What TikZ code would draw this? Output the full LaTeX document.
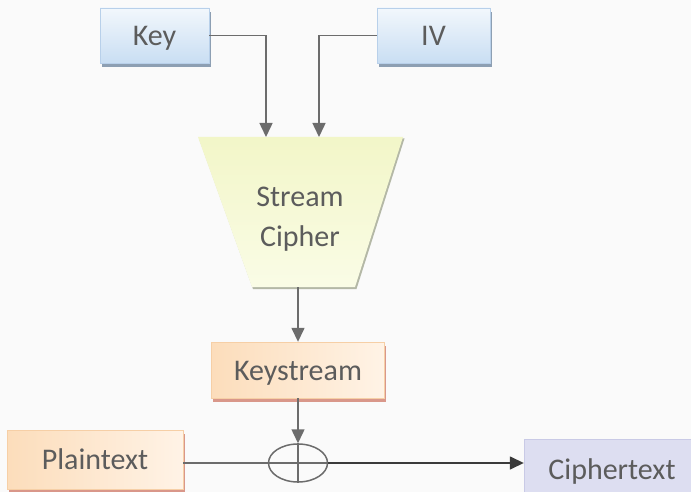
\documentclass[tikz,border=0pt]{standalone}
\usepackage{fontspec}
\setmainfont{Carlito}
\usetikzlibrary{arrows.meta,shapes.geometric,shadows}
\definecolor{bg}{HTML}{FAFAFA}
\definecolor{txt}{HTML}{5C5C5C}
\definecolor{ln}{HTML}{6C6C6C}
\definecolor{lndark}{HTML}{3A3A3A}
\definecolor{blueT}{HTML}{F2F7FC}
\definecolor{blueB}{HTML}{C9DEF3}
\definecolor{blueE}{HTML}{B8D0EA}
\definecolor{blueS}{HTML}{8D9FB3}
\definecolor{orT}{HTML}{FCDDBB}
\definecolor{orB}{HTML}{FFF3E6}
\definecolor{orE}{HTML}{F6CFA6}
\definecolor{orS}{HTML}{D9978A}
\definecolor{yT}{HTML}{F2F6C8}
\definecolor{yB}{HTML}{FAFCE6}
\definecolor{yS}{HTML}{B4B8A6}
\definecolor{lav}{HTML}{DDDEF1}
\definecolor{lavE}{HTML}{C9CAE6}
\begin{document}
\begin{tikzpicture}[x=1pt,y=-1pt,
  font=\fontsize{30}{42}\selectfont,
  box/.style={rectangle, inner sep=0pt, text=txt, line width=0.4pt, text height=22pt, text depth=2pt},
  bluebox/.style={box, top color=blueT, bottom color=blueB, draw=blueE,
    drop shadow={shadow xshift=1.5pt, shadow yshift=-4pt, fill=blueS, opacity=1}},
  orbox/.style={box, left color=orT, right color=orB, draw=orE,
    drop shadow={shadow xshift=1.5pt, shadow yshift=-4pt, fill=orS, opacity=1}},
  arr/.style={draw=ln, line width=1.5pt, -{Triangle[length=14pt,width=13pt]}},
  conn/.style={draw=ln, line width=1.5pt}]
\path[clip] (0,0) rectangle (691,492);
\useasboundingbox (0,0) rectangle (691,492);
\fill[bg] (0,0) rectangle (691,492);

% nodes
\node[bluebox, minimum width=109pt, minimum height=55pt] (key) at (154.5,35.5) {Key};
\node[bluebox, minimum width=113pt, minimum height=55pt] (iv) at (433.5,35.5) {IV};

% trapezoid body
\fill[yS] (199,138.5) -- (404.5,138.5) -- (356.5,289) -- (253,289) -- cycle;
\shade[top color=yT, bottom color=yB] (198,137) -- (403,137) -- (355,287) -- (252,287) -- cycle;
\node[rectangle, inner sep=0pt, minimum width=205pt, minimum height=150pt] (cipher) at (298,212) {};
\node[text=txt] (streamtxt) at (300,197) {Stream};
\node[text=txt] (ciphertxt) at (300,239) {Cipher};

\node[orbox, minimum width=173pt, minimum height=56pt] (ks) at (298,370) {Keystream};
\node[orbox, minimum width=176pt, minimum height=59pt] (plain) at (95,459.5) {Plaintext};
\node[box, fill=lav, draw=lavE, minimum width=176pt, minimum height=60pt] (ct) at (612,469) {Ciphertext};
\node[ellipse, draw=ln, line width=1.5pt, inner sep=0pt, minimum width=59pt, minimum height=38pt] (xor) at (298,463) {};

% connectors
\coordinate (kin) at (266,137);
\coordinate (ivin) at (319,137);
\draw[arr] (key.east) -| (kin);
\draw[arr] (iv.west) -| (ivin);
\draw[arr] (cipher.south) -- (ks.north);
\draw[arr] (ks.south) -- (xor.north);
\draw[conn] (xor.north) -- (xor.south);
\draw[conn] (plain.east |- xor.west) -- (xor.west) -- (xor.east);
\draw[arr, draw=lndark] (xor.east) -- (ct.west |- xor.east);
\end{tikzpicture}
\end{document}
